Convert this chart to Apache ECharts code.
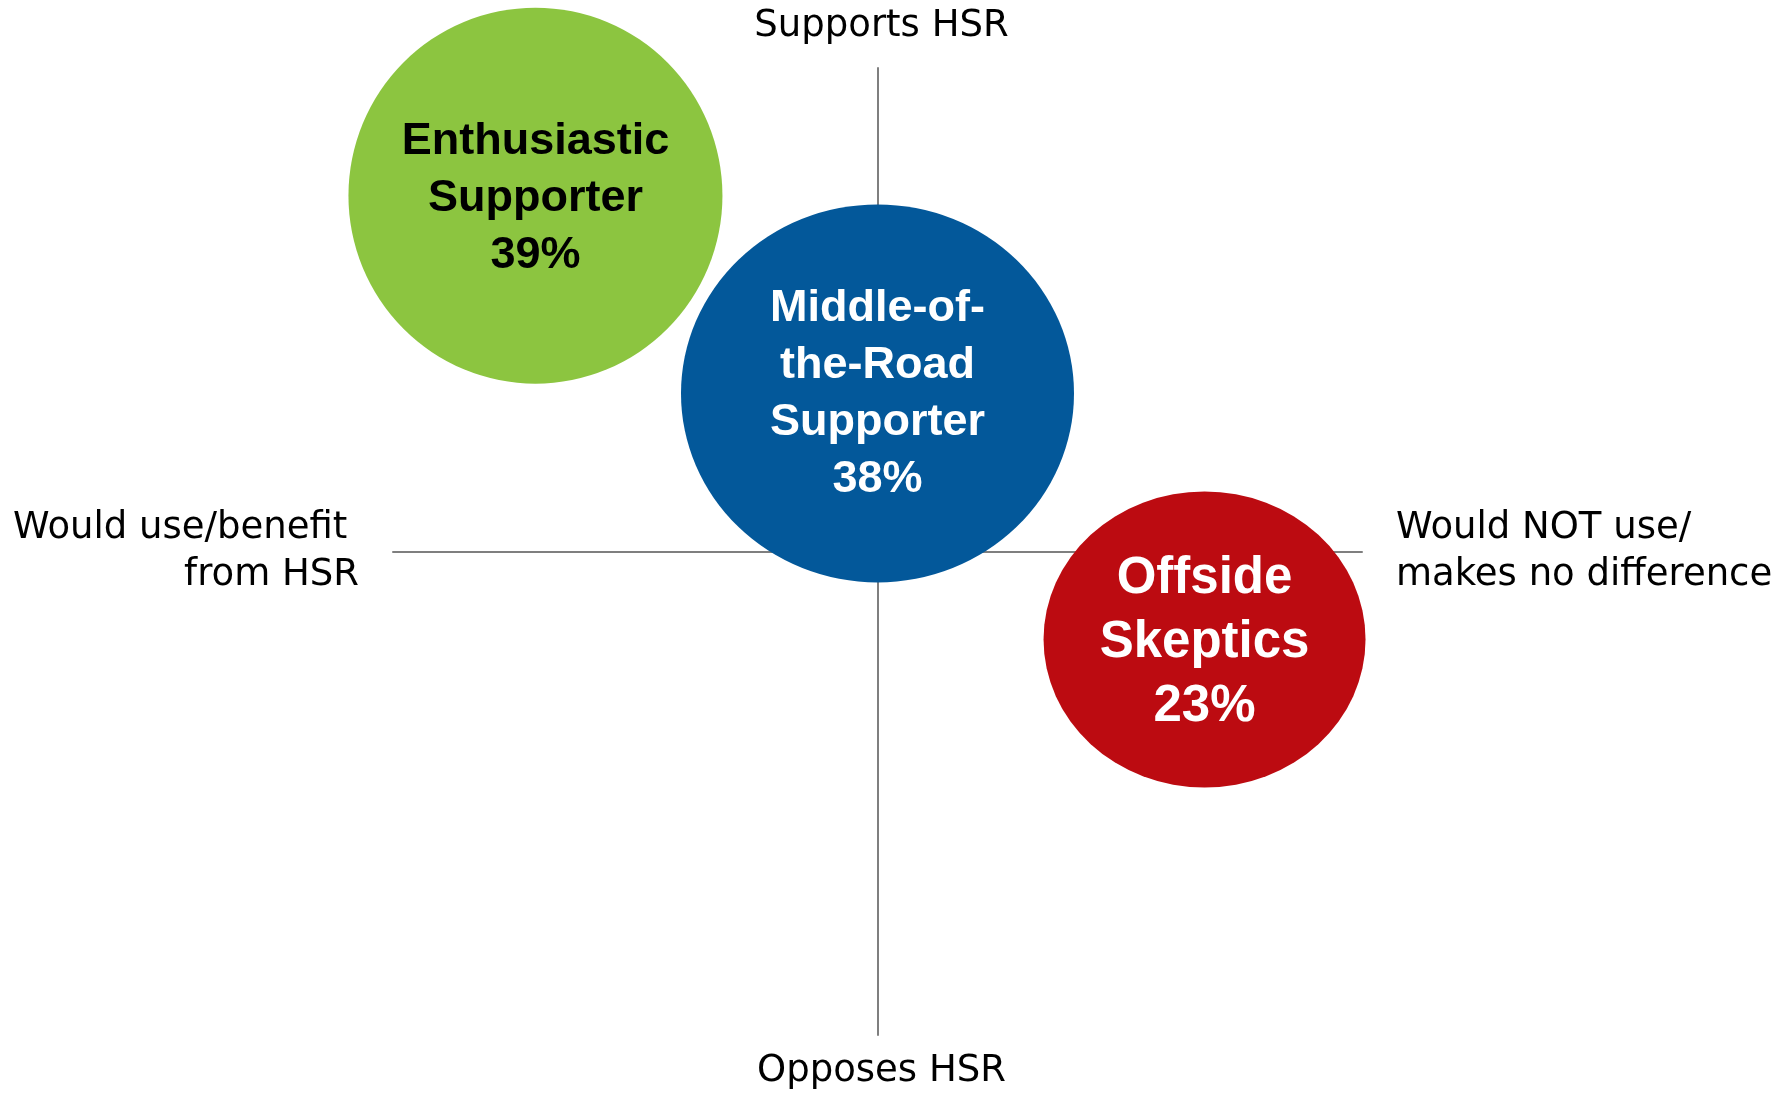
<!DOCTYPE html>
<html>
<head>
<meta charset="utf-8">
<title>HSR segments</title>
<script src="https://cdn.jsdelivr.net/npm/echarts@6/dist/echarts.min.js"></script>
<style>
  html, body { margin: 0; padding: 0; background: #fff; }
  #chart { width: 1775px; height: 1095px; }
</style>
</head>
<body>
<div id="chart"></div>
<script>
// segments
const segments = ['Enthusiastic\nSupporter', 'Middle-of-\nthe-Road\nSupporter', 'Offside\nSkeptics'];
const shares = [39, 38, 23];
// position on the two attitude axes (-1..1)
const benefitScore = [-0.706, 0.0, 0.675];
const supportScore = [0.736, 0.327, -0.182];

// axis end labels
const axisLabels = ['Supports HSR', 'Opposes HSR', 'Would use/benefit \nfrom HSR', 'Would NOT use/\nmakes no difference'];

const bubbleSizes = [[374, 376], [393, 378], [322, 296]];
const bubbleColors = ['#8CC540', '#03589A', '#BC0B11'];
const textColors = ['#000', '#fff', '#fff'];
const fontSizes = [45, 45, 51];
const lineHeights = [57, 57, 64];

const chart = echarts.init(document.getElementById('chart'));

const axisCommon = {
  type: 'value',
  min: -1,
  max: 1,
  axisLine: { show: true, onZero: true, lineStyle: { color: '#7f7f7f', width: 2 } },
  axisTick: { show: false },
  axisLabel: { show: false },
  splitLine: { show: false }
};

const bubbleData = segments.map((name, i) => ({
  name: name,
  value: [benefitScore[i], supportScore[i], shares[i]],
  symbolSize: bubbleSizes[i],
  itemStyle: { color: bubbleColors[i], opacity: 1 },
  label: {
    color: textColors[i],
    fontSize: fontSizes[i],
    lineHeight: lineHeights[i],
    offset: [0, i === 1 ? 1 : 3]
  }
}));

const endPos = [[0, 1], [0, -1], [-1, 0], [1, 0]];
const endLabelPos = ['top', 'bottom', 'left', 'right'];
const endDist = [18, 13, 34, 34];
const endData = axisLabels.map((t, i) => ({
  name: t,
  value: endPos[i],
  label: {
    position: endLabelPos[i],
    distance: endDist[i],
    align: i === 2 ? 'right' : (i === 3 ? 'left' : 'center'),
    offset: i < 2 ? [4, 0] : [0, 0]
  }
}));

chart.setOption({
  animation: false,
  grid: { left: 393, top: 68, width: 969, height: 967 },
  xAxis: axisCommon,
  yAxis: axisCommon,
  series: [
    {
      type: 'scatter',
      symbol: 'circle',
      silent: true,
      z: 5,
      itemStyle: { opacity: 1 },
      data: bubbleData,
      label: {
        show: true,
        position: 'inside',
        fontFamily: 'Liberation Sans',
        fontWeight: 'bold',
        align: 'center',
        formatter: p => p.name + '\n' + p.value[2] + '%'
      }
    },
    {
      type: 'scatter',
      symbolSize: 0,
      silent: true,
      itemStyle: { opacity: 1 },
      data: endData,
      label: {
        show: true,
        fontFamily: 'DejaVu Sans',
        fontSize: 37,
        lineHeight: 47,
        color: '#000',
        formatter: p => p.name
      }
    }
  ]
});
</script>
</body>
</html>
